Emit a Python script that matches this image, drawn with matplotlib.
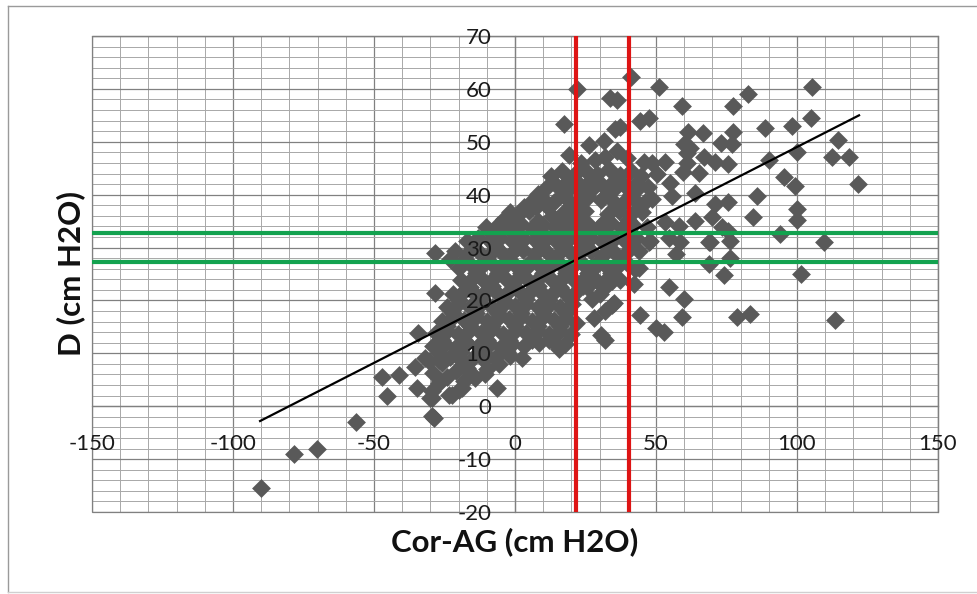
import matplotlib
matplotlib.use('Agg')
import matplotlib.pyplot as plt
from matplotlib.ticker import MultipleLocator
from matplotlib.lines import Line2D
from matplotlib.patches import Rectangle


# scattered points (Cor-AG, D), both in cm H2O
left_pts = [
    (-90.0, -15.5), (-78.5, -9.0), (-70.2, -8.1), (-56.4, -3.0),
    (-47.0, 5.6), (-45.5, 2.0), (-41.3, 5.9), (-35.5, 7.4), (-34.8, 3.5),
    (-34.5, 13.9), (-30.6, 8.5), (-29.5, 1.6), (-28.8, -2.2), (-26.6, 4.7),
    (-28.5, 21.5), (-28.3, 29.0), (-23.2, 27.8), (-22.3, 2.2), (-18.8, 3.5),
    (-14.1, 5.4),
]

dense_pts = [
    # top of the main cloud
    (17.3, 53.4), (22.0, 60.0), (26.1, 49.4), (19.2, 47.5), (28.4, 46.6),
    (33.8, 58.2), (36.2, 57.9), (35.6, 52.4), (37.3, 52.7), (31.5, 50.2),
    (23.5, 46.0), (32.0, 47.2), (36.0, 48.3), (39.8, 47.0), (44.4, 54.0), (47.5, 54.5),
    # ~44
    (12.6, 43.6), (16.5, 44.5), (20.8, 43.8), (24.7, 44.6), (29.0, 43.9),
    (33.2, 44.8), (37.1, 43.7), (41.0, 44.4), (44.8, 43.5),
    (18.6, 42.4), (26.9, 42.7), (35.0, 42.6), (43.1, 42.3),
    # ~41.5
    (11.0, 41.2), (14.9, 41.7), (18.9, 40.9), (23.1, 41.8), (27.3, 41.0),
    (31.0, 41.9), (35.2, 41.1), (39.0, 41.6), (43.0, 40.8), (47.2, 41.5),
    (8.2, 40.1), (16.9, 40.2), (25.0, 40.3), (33.1, 40.1), (41.0, 40.2),
    # ~39
    (5.8, 38.7), (9.7, 39.3), (13.8, 38.6), (18.1, 39.4), (22.2, 38.8),
    (26.0, 39.6), (30.4, 38.9), (34.1, 39.2), (38.3, 38.5), (42.0, 39.4), (46.1, 38.6),
    (3.1, 37.6), (11.8, 37.7), (19.9, 37.6), (36.0, 37.8), (44.1, 37.6),
    # ~36.5
    (-4.0, 35.4), (-1.8, 36.8), (1.2, 36.2), (5.0, 36.9), (7.5, 37.6),
    (11.3, 37.9), (13.1, 36.0), (17.2, 36.7), (21.0, 36.1), (24.8, 36.9),
    (33.0, 36.4), (37.0, 37.0), (40.9, 36.2), (45.0, 36.8),
    (0.0, 35.0), (8.1, 35.1), (15.9, 35.2), (24.0, 35.0), (31.9, 35.1), (40.0, 35.2),
    # ~34
    (-10.2, 33.8), (-6.1, 34.3), (-2.2, 33.6), (2.1, 34.4), (6.0, 33.7),
    (9.8, 34.2), (14.1, 33.8), (18.0, 34.5), (22.1, 33.6), (26.2, 34.3),
    (29.9, 33.9), (34.2, 34.6), (38.1, 33.7), (42.0, 34.2), (46.8, 33.9),
    (-8.0, 32.6), (-0.1, 32.7), (8.0, 32.5), (16.1, 32.6), (24.0, 32.7), (32.1, 32.5), (40.0, 32.6),
    # ~31.5
    (-17.0, 31.2), (-13.1, 31.8), (-9.0, 31.3), (-5.2, 31.9), (-1.0, 31.2),
    (3.1, 31.7), (7.0, 31.4), (11.2, 31.9), (15.0, 31.1), (19.1, 31.6),
    (23.0, 31.3), (27.1, 31.8), (31.0, 31.2), (35.0, 31.7), (39.1, 31.3),
    (43.0, 31.9), (48.0, 31.2),
    (-15.0, 30.1), (-7.0, 30.2), (1.0, 30.1), (9.1, 30.3), (17.0, 30.1), (25.0, 30.2), (33.1, 30.1), (41.0, 30.3),
    # ~29
    (-21.2, 29.3), (-17.0, 28.8), (-13.1, 29.4), (-9.0, 28.7), (-5.1, 29.2),
    (-1.0, 28.9), (3.0, 29.5), (7.1, 28.8), (11.0, 29.3), (15.2, 28.7),
    (19.0, 29.4), (23.1, 28.9), (27.0, 29.3), (31.2, 28.6), (35.0, 29.2),
    (39.0, 28.8), (44.0, 29.4),
    (-18.0, 27.6), (-10.0, 27.7), (-2.0, 27.6), (6.0, 27.7), (14.0, 27.6), (22.1, 27.7), (30.0, 27.6), (38.0, 27.7),
    # ~26.5
    (-20.0, 26.2), (-16.1, 26.8), (-12.0, 26.3), (-8.0, 26.9), (-4.1, 26.2),
    (0.0, 26.7), (4.1, 26.4), (8.0, 26.9), (12.1, 26.2), (16.0, 26.8),
    (20.1, 26.3), (24.0, 26.9), (28.1, 26.2), (32.0, 26.7), (36.1, 26.4), (40.0, 26.8),
    (-14.0, 25.1), (-6.0, 25.2), (2.0, 25.1), (10.1, 25.2), (18.0, 25.1), (26.0, 25.2), (34.0, 25.1),
    # ~24
    (-19.0, 23.8), (-15.0, 24.3), (-11.1, 23.7), (-7.0, 24.4), (-3.0, 23.9),
    (1.1, 24.2), (5.0, 23.7), (9.0, 24.4), (13.1, 23.8), (17.0, 24.3),
    (21.0, 23.9), (25.1, 24.4), (29.0, 23.7), (33.0, 24.2), (37.1, 23.8),
    (-16.0, 22.6), (-8.0, 22.7), (0.0, 22.6), (8.0, 22.7), (16.0, 22.6), (24.0, 22.7), (32.0, 22.6),
    # ~21.5
    (-22.0, 21.2), (-18.0, 21.8), (-14.1, 21.3), (-10.0, 21.9), (-6.0, 21.2),
    (-2.0, 21.7), (2.1, 21.4), (6.0, 21.9), (10.0, 21.2), (14.1, 21.8),
    (18.0, 21.3), (22.0, 21.7), (25.6, 22.6), (30.0, 21.3), (35.0, 19.6),
    (-20.0, 20.1), (-12.0, 20.2), (-4.0, 20.1), (4.0, 20.2), (12.0, 20.1), (20.0, 20.2),
    # ~19
    (-24.0, 18.8), (-20.1, 19.3), (-16.0, 18.7), (-12.0, 19.4), (-8.1, 18.8),
    (-4.0, 19.3), (0.0, 18.9), (4.0, 19.4), (8.1, 18.7), (12.0, 19.2),
    (16.0, 18.8), (20.1, 19.3), (27.3, 20.2), (32.0, 18.0), (34.4, 19.2),
    (-22.0, 17.6), (-14.0, 17.6), (-6.0, 17.7), (2.0, 17.6), (10.0, 17.7), (18.0, 17.6),
    # ~16.5
    (-26.0, 16.2), (-22.0, 16.8), (-18.1, 16.3), (-14.0, 16.9), (-10.0, 16.2),
    (-6.1, 16.7), (-2.0, 16.4), (2.0, 16.9), (6.1, 16.2), (10.0, 16.8),
    (14.0, 16.3), (18.1, 16.7), (21.5, 15.8), (28.0, 16.6),
    (-24.0, 15.1), (-16.0, 15.2), (-8.0, 15.1), (0.0, 15.2), (8.0, 15.1), (16.0, 15.2),
    # ~14
    (-28.0, 13.8), (-24.0, 14.3), (-20.1, 13.7), (-16.0, 14.4), (-12.0, 13.8),
    (-8.0, 14.6), (-4.1, 13.7), (0.0, 14.2), (4.0, 13.8), (8.1, 14.3),
    (12.0, 13.7), (16.0, 14.2), (19.8, 13.6), (30.5, 13.4), (32.0, 12.6),
    (-26.0, 12.6), (-18.0, 12.5), (-10.0, 12.6), (-2.0, 12.5), (6.0, 12.6), (12.0, 12.5),
    # ~11.5
    (-29.0, 11.3), (-25.0, 11.8), (-21.0, 11.2), (-17.1, 11.9), (-13.0, 11.3),
    (-9.0, 11.7), (-5.0, 11.2), (-1.0, 11.8), (3.1, 11.4), (8.4, 12.0),
    (14.3, 12.0), (17.8, 11.7), (15.5, 10.8),
    (-27.0, 10.1), (-19.0, 10.2), (-11.0, 10.1), (-3.0, 10.2),
    # ~9
    (-31.8, 9.2), (-27.0, 8.8), (-23.0, 9.3), (-18.8, 8.5), (-15.0, 9.1),
    (-11.0, 8.7), (-7.0, 9.2), (-1.7, 9.5), (2.5, 9.2),
    # lower tail
    (-29.0, 6.3), (-25.9, 8.2), (-21.0, 6.6), (-15.2, 6.0), (-10.5, 6.0),
    (-5.8, 7.9), (-9.9, 7.0), (-27.0, 4.3), (-23.5, 2.2), (-20.0, 3.0),
    (-6.4, 3.5), (-29.4, 2.8), (-18.0, 4.8), (-29.4, -1.9), (-30.0, 1.6),
    (-24.0, 5.6), (-17.0, 7.2),
]

right_pts = [
    (41.3, 62.2), (51.0, 60.3), (59.3, 56.7), (77.3, 56.7), (82.5, 59.1), (105.3, 60.3),
    (104.8, 54.5), (98.2, 53.0), (88.8, 52.6), (114.7, 50.3), (112.4, 47.1), (118.3, 47.1),
    (121.8, 42.0), (100.0, 48.1), (90.2, 46.5), (95.3, 43.4), (99.4, 41.7), (85.8, 39.8),
    (100.0, 37.3), (100.0, 35.3), (84.3, 35.7), (94.1, 32.6), (109.6, 31.0), (101.3, 25.0),
    (113.6, 16.3), (78.7, 16.9), (83.2, 17.4), (74.0, 24.8), (68.7, 26.9), (76.4, 28.1),
    (76.4, 31.2), (69.3, 31.0), (75.7, 33.2), (59.8, 20.2), (54.5, 22.5), (59.3, 16.8),
    (44.3, 17.3), (50.0, 14.8), (52.7, 14.0), (61.5, 51.8), (66.5, 51.6), (59.8, 49.5),
    (62.2, 48.8), (73.0, 49.7), (77.3, 51.9), (77.0, 49.5), (45.6, 46.2), (48.6, 45.9),
    (53.3, 46.2), (59.5, 44.3), (65.3, 44.1), (66.9, 47.1), (71.0, 46.2), (75.7, 45.8),
    (55.1, 42.2), (63.8, 40.3), (55.7, 39.8), (48.6, 39.2), (70.8, 38.3), (75.5, 38.6),
    (69.9, 35.7), (63.7, 35.0), (53.3, 34.8), (58.0, 34.0), (54.5, 31.8), (58.5, 31.0),
    (68.7, 31.0), (57.0, 28.8), (47.4, 31.0), (44.0, 26.2), (42.1, 23.1), (42.7, 25.9),
    (61.0, 45.9), (50.5, 44.0), (73.4, 33.8), (34.4, 23.7), (61.0, 47.8),
]

# linear trend line end points
trend_x = [-90.4, 122.0]
trend_y = [-2.8, 55.0]

# reference lines
red_x = [21.7, 40.4]
green_y = [27.2, 32.8]

x_label = 'Cor-AG (cm H2O)'
y_label = 'D (cm H2O)'


plt.rcParams['font.family'] = ['Lato', 'DejaVu Sans']
plt.rcParams['axes.unicode_minus'] = False

fig = plt.figure(figsize=(9.77, 5.94), dpi=100)

# outer chart border
border = '#9a9a9a'
fig.add_artist(Line2D([8 / 977, 1.0], [1 - 6 / 594, 1 - 6 / 594], color=border, lw=1))
fig.add_artist(Line2D([8 / 977, 8 / 977], [0.003, 1 - 6 / 594], color=border, lw=1))
fig.add_artist(Line2D([8 / 977, 1.0], [0.003, 0.003], color='#d0d0d0', lw=1))

plot_rect = [92 / 977, 1 - 512 / 594, 846 / 977, 476 / 594]
ax = fig.add_axes(plot_rect)
ax.set_xlim(-150, 150)
ax.set_ylim(-20, 70)
ax.xaxis.set_major_locator(MultipleLocator(50))
ax.xaxis.set_minor_locator(MultipleLocator(10))
ax.yaxis.set_major_locator(MultipleLocator(10))
ax.yaxis.set_minor_locator(MultipleLocator(2))
ax.set_axisbelow(True)
ax.grid(which='major', color='#808080', lw=0.9)
ax.grid(which='minor', color='#a8a8a8', lw=0.7)

ax.spines['left'].set_position(('data', 0))
ax.spines['bottom'].set_position(('data', 0))
for sp in ax.spines.values():
    sp.set_color('#808080')
    sp.set_linewidth(0.9)
ax.add_patch(Rectangle((0, 0), 1, 1, transform=ax.transAxes, fill=False,
                       edgecolor='#808080', lw=0.9, clip_on=False, zorder=2))
ax.tick_params(which='both', length=0, labelleft=False, labelbottom=False)

pts = left_pts + dense_pts + right_pts
xs = [p[0] for p in pts]
ys = [p[1] for p in pts]
ax.scatter(xs, ys, marker='D', s=92, color='#595959', linewidths=0, zorder=3)

for yv in green_y:
    ax.axhline(yv, color='#13a24f', lw=3, zorder=4)
ax.plot(trend_x, trend_y, color='black', lw=1.6, zorder=5)
for xv in red_x:
    ax.axvline(xv, color='#de1414', lw=3, zorder=6)

ax.set_xlabel(x_label, fontsize=22.5, fontweight='bold', color='#111111')
ax.set_ylabel(y_label, fontsize=22.5, fontweight='bold', color='#111111')
ax.xaxis.set_label_coords(0.5, -0.031)
ax.yaxis.set_label_coords(-0.008, 0.5)

# tick labels sit on top of the markers, as in Excel
lab = fig.add_axes(plot_rect, sharex=ax, sharey=ax)
lab.patch.set_visible(False)
for sp in lab.spines.values():
    sp.set_visible(False)
lab.spines['left'].set_position(('data', 0))
lab.spines['bottom'].set_position(('data', 0))
lab.tick_params(which='both', length=0)
lab.tick_params(axis='x', labelsize=16, pad=20, labelcolor='#1a1a1a')
lab.tick_params(axis='y', labelsize=16, pad=17, labelcolor='#1a1a1a')

fig.savefig('out.png', dpi=100)
